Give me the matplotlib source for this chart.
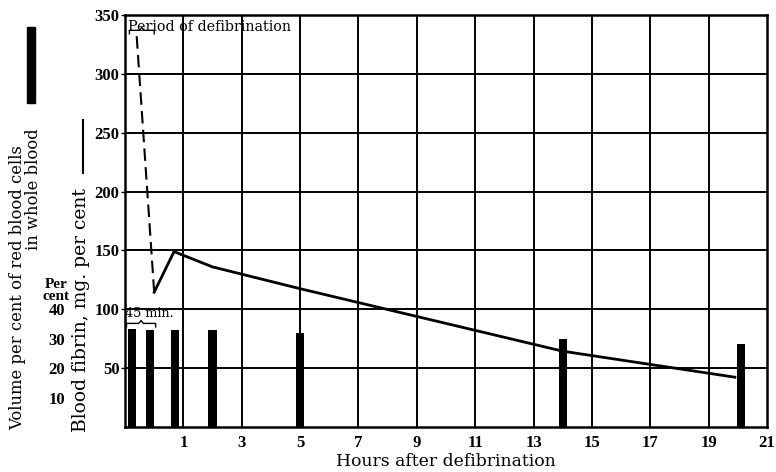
import matplotlib
matplotlib.use("Agg")
import matplotlib.pyplot as plt
from matplotlib.patches import Rectangle
from matplotlib.lines import Line2D
import matplotlib.transforms as mtransforms

# ---- data ----
bar_hours = [-0.75, -0.15, 0.7, 2.0, 5.0, 14.0, 20.1]
bar_percent = [33.2, 32.8, 32.8, 32.8, 32.0, 29.8, 28.3]

fibrin_dash_hours = [-0.6, 0.0]
fibrin_dash_values = [332, 114.5]
fibrin_hours = [0.0, 0.68, 2.0, 5.0, 14.0, 19.9]
fibrin_values = [114.5, 149, 136, 117.5, 64.4, 42.3]

x_ticks = [1, 3, 5, 7, 9, 11, 13, 15, 17, 19, 21]
y_ticks = [50, 100, 150, 200, 250, 300, 350]
pct_ticks = [10, 20, 30, 40]
mg_per_pct = 2.5

period_start, period_end = -0.85, 0.0
min45_start, min45_end = -0.95, 0.05

TICKFONT = ["Liberation Serif", "DejaVu Serif"]
LABFONT = ["DejaVu Serif"]
plt.rcParams['font.family'] = TICKFONT

fig = plt.figure(figsize=(7.76, 4.72), dpi=100)
ax = fig.add_axes([125/776, 1-427/472, (767-125)/776, (427-15)/472])
ax.set_xlim(-1, 21)
ax.set_ylim(0, 350)

# grid
for x in x_ticks[:-1]:
    ax.axvline(x, color='black', lw=1.4, zorder=1)
for y in y_ticks[:-1]:
    ax.axhline(y, color='black', lw=1.4, zorder=1)
for s in ax.spines.values():
    s.set_linewidth(1.8)

# bars
ax.bar(bar_hours, [p*mg_per_pct for p in bar_percent], width=0.28,
       color='black', zorder=3)

# fibrin line
ax.plot(fibrin_dash_hours, fibrin_dash_values, color='black', lw=1.5,
        dashes=(6, 3), zorder=4)
ax.plot(fibrin_hours, fibrin_values, color='black', lw=2.0, zorder=4,
        solid_joinstyle='miter')

# ticks
ax.set_xticks(x_ticks)
ax.set_xticklabels([str(t) for t in x_ticks], fontsize=12, fontweight='bold')
ax.tick_params(axis='x', length=0, pad=6)
ax.set_yticks(y_ticks)
ax.set_yticklabels([str(t) for t in y_ticks], fontsize=12, fontweight='bold')
ax.tick_params(axis='y', length=3, width=1, pad=1)
ax.set_xlabel("Hours after defibrination", fontsize=12.4, labelpad=1,
              family=LABFONT)

# percent axis
sec = ax.secondary_yaxis(-0.089, functions=(lambda y: y/mg_per_pct,
                                            lambda p: p*mg_per_pct))
sec.set_yticks(pct_ticks)
sec.set_yticklabels([str(t) for t in pct_ticks], fontsize=12, fontweight='bold')
sec.tick_params(length=0, pad=2)
sec.spines['left'].set_visible(False)

# braces
def brace(x0, x1, y, h):
    xm = (x0 + x1) / 2
    d = (x1 - x0) * 0.08
    ax.plot([x0, x0, xm - d, xm, xm + d, x1, x1],
            [y - h, y, y, y + h*0.8, y, y, y - h],
            color='black', lw=1.0, zorder=5, clip_on=False)

brace(period_start, period_end, 337, 3)
brace(min45_start, min45_end, 88, 3)

ax.text(-0.9, 346, "Period of defibrination", fontsize=10.3, ha='left',
        va='top', zorder=6, family=LABFONT)
ax.text(-1.0, 91, "45 min.", fontsize=9.2, ha='left', va='bottom', zorder=6,
        family=LABFONT)

# left labels
fig.text(18/776, 1-430/472, "Volume per cent of red blood cells",
         rotation=90, ha='center', va='bottom', fontsize=11.75, family=LABFONT)
fig.text(34/776, 1-128/472, "in whole blood",
         rotation=90, ha='center', va='top', fontsize=11.75, family=LABFONT)
fig.add_artist(Rectangle((27/776, 1-103/472), 8/776, 76/472,
                         transform=fig.transFigure, color='black'))
fig.text(81/776, 1-432/472, "Blood fibrin, mg. per cent", rotation=90,
         ha='center', va='bottom', fontsize=13.5, family=LABFONT)
fig.add_artist(Line2D([83/776, 83/776], [1-173/472, 1-120/472],
                      transform=fig.transFigure, color='black', lw=1.5))
trans = mtransforms.blended_transform_factory(fig.transFigure, ax.transData)
ax.text(56/776, 105, "Per\ncent", transform=trans, ha='center', va='bottom',
        fontsize=11, fontweight='bold', linespacing=0.9)

fig.savefig("out.png", dpi=100)
